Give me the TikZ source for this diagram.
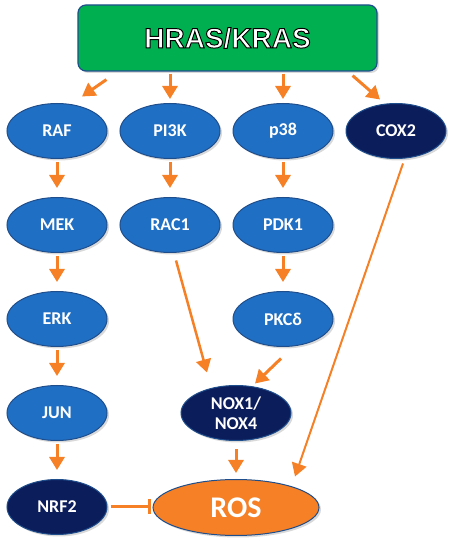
\documentclass[tikz,border=0pt]{standalone}
\usepackage{fontspec}
\usepackage{tikz}
\usetikzlibrary{positioning, shapes.geometric, arrows.meta, shadows}
\newfontfamily\labelfont{Carlito}
\newfontfamily\headfont{Liberation Sans Bold}[FakeBold=3.5]
\definecolor{rasgreen}{HTML}{00B050}
\definecolor{midblue}{HTML}{1F6FC4}
\definecolor{navyblue}{HTML}{0C1D5C}
\definecolor{edgeblue}{HTML}{1F4E8C}
\definecolor{rosorange}{HTML}{F58025}
\tikzstyle{gene}     = [ellipse, minimum width=100pt, minimum height=55pt, inner sep=0pt, align=center, draw=edgeblue, line width=1pt, fill=midblue, text=white, font=\labelfont\bfseries\fontsize{18}{20}\selectfont, drop shadow={opacity=0.3, shadow xshift=2pt, shadow yshift=-2pt}]
\tikzstyle{darkgene} = [gene, fill=navyblue]
\tikzstyle{flow}     = [draw=rosorange, line width=3pt, -{Triangle[length=13pt,width=15pt]}]
\tikzstyle{link}     = [flow, shorten <=3pt, shorten >=9pt]
\tikzstyle{block}    = [draw=rosorange, line width=3pt, -{Bar[width=15pt,line width=3pt]}, shorten <=3pt, shorten >=2pt]

\begin{document}
\begin{tikzpicture}[x=1pt, y=1pt]
    \useasboundingbox (0,0) rectangle (457,546);

    \node (hras) [rectangle, rounded corners=8pt, minimum width=299pt, minimum height=66pt, fill=rasgreen, draw=edgeblue, line width=1.2pt, text=white, font=\headfont\fontsize{28}{32}\selectfont, drop shadow={opacity=0.3, shadow xshift=2pt, shadow yshift=-2pt}] at (227.5,508) {\special{pdf:literal 0 G}HRAS/KRAS};

    \node (raf)  [gene] at (57,415) {RAF};
    \node (pi3k) [gene,     right=12pt of raf]  {PI3K};
    \node (p38)  [gene,     right=12pt of pi3k] {p38};
    \node (cox2) [darkgene, right=12pt of p38]  {COX2};

    \node (mek)  [gene,     below=38pt of raf]  {MEK};
    \node (erk)  [gene,     below=38pt of mek]  {ERK};
    \node (jun)  [gene,     below=38pt of erk]  {JUN};
    \node (nrf2) [darkgene, below=38pt of jun]  {NRF2};

    \node (rac1) [gene,     below=38pt of pi3k] {RAC1};
    \node (pdk1) [gene,     below=38pt of p38]  {PDK1};
    \node (pkcd) [gene,     below=38pt of pdk1] {PKCδ};

    \node (nox)  [darkgene, minimum width=110pt, below=38pt of pkcd, xshift=-47pt] {NOX1/\\NOX4};
    \node (ros)  [gene, fill=rosorange, minimum width=166pt, minimum height=56pt, font=\labelfont\bfseries\fontsize{30}{34}\selectfont, below=38pt of nox] {ROS};

    \draw [flow] ([xshift=29pt,yshift=-8pt]hras.south west) -- ([xshift=25pt,yshift=6.5pt]raf.north);
    \draw [flow, shorten <=2pt, shorten >=4pt] (pi3k.north |- hras.south) -- (pi3k.north);
    \draw [flow, shorten <=2pt, shorten >=4pt] (p38.north |- hras.south) -- (p38.north);
    \draw [flow] ([xshift=-25pt,yshift=-4pt]hras.south east) -- ([xshift=-16pt,yshift=3.5pt]cox2.north);

    \draw [link] (raf.south)  -- (mek.north);
    \draw [link] (mek.south)  -- (erk.north);
    \draw [link] (erk.south)  -- (jun.north);
    \draw [link] (jun.south)  -- (nrf2.north);
    \draw [link] (pi3k.south) -- (rac1.north);
    \draw [link] (p38.south)  -- (pdk1.north);
    \draw [link] (pdk1.south) -- (pkcd.north);

    \draw [flow, line width=2.5pt] ([xshift=6pt,yshift=-7.5pt]rac1.south) -- ([xshift=-29pt,yshift=12.5pt]nox.north);
    \draw [flow] ([xshift=-2pt,yshift=-11.5pt]pkcd.south) -- ([xshift=19pt,yshift=1.5pt]nox.north);
    \draw [flow, line width=2pt] ([xshift=7pt,yshift=-4.5pt]cox2.south) -- ([xshift=59pt,yshift=2.5pt]ros.north);
    \draw [flow, shorten <=8.5pt, shorten >=6pt] (nox.south) -- (ros.north);

    \draw [block] (nrf2.east) -- (nrf2.east -| ros.west);
\end{tikzpicture}
\end{document}
